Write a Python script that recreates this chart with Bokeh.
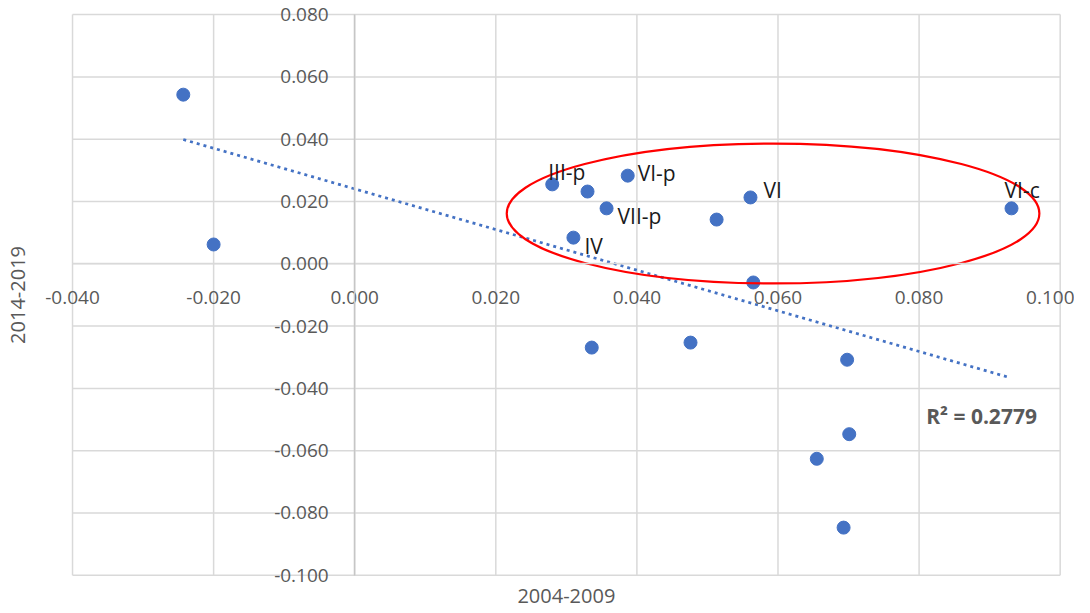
from bokeh.plotting import figure
from bokeh.models import (Range1d, FixedTicker, NumeralTickFormatter, ColumnDataSource, Label)
from bokeh.embed import file_html
from bokeh.resources import INLINE

# ---------------- data ----------------
x_vals = [-0.0243, -0.0200, 0.0280, 0.0330, 0.0387, 0.0357, 0.0310, 0.0513,
          0.0561, 0.0931, 0.0565, 0.0336, 0.0476, 0.0698, 0.0701, 0.0655, 0.0693]
y_vals = [0.0543, 0.0062, 0.0255, 0.0232, 0.0283, 0.0178, 0.0084, 0.0142,
          0.0213, 0.0178, -0.0060, -0.0269, -0.0253, -0.0308, -0.0547, -0.0626, -0.0847]

label_names = ["III-p", "VI-p", "VII-p", "IV", "VI", "VI-c"]
label_x = [0.0280, 0.0387, 0.0357, 0.0310, 0.0561, 0.0931]
label_y = [0.0255, 0.0283, 0.0178, 0.0084, 0.0213, 0.0178]
label_dx = [-4, 10, 11, 11, 13, -7]
label_dy = [-12, -3, 8, 8, -7, -18]

trend_x = [-0.0243, 0.0928]
trend_y = [0.0399, -0.0365]
r2_text = "R\u00b2 = 0.2779"

ellipse_x = [0.0593]
ellipse_y = [0.01615]
ellipse_w = [0.0755]
ellipse_h = [0.0449]

x_ticks = [-0.04, -0.02, 0.0, 0.02, 0.04, 0.06, 0.08, 0.10]
y_ticks = [-0.10, -0.08, -0.06, -0.04, -0.02, 0.0, 0.02, 0.04, 0.06, 0.08]
x_title = "2004-2009"
y_title = "2014-2019"

# ---------------- figure ----------------
FONT = "Open Sans"
GRAY_TXT = "#595959"
GRID = "#d9d9d9"
BLUE = "#4472C4"

XMIN, XMAX = x_ticks[0], x_ticks[-1]
YMIN, YMAX = y_ticks[0], y_ticks[-1]

# the frame covers the whole canvas; the chart area is drawn inside it
p = figure(width=1074, height=613, output_backend="svg", toolbar_location=None,
           x_range=Range1d(-0.05021, 0.10203), y_range=Range1d(-0.11227, 0.08453),
           min_border=0, background_fill_color="white", border_fill_color="white")
p.outline_line_color = None
p.grid.visible = False

# grid lines (chart area only)
n_x = len(x_ticks)
n_y = len(y_ticks)
p.segment(x0=x_ticks, y0=[YMIN] * n_x, x1=x_ticks, y1=[YMAX] * n_x,
          line_color=GRID, line_width=1.5)
p.segment(x0=[XMIN] * n_y, y0=y_ticks, x1=[XMAX] * n_y, y1=y_ticks,
          line_color=GRID, line_width=1.5)

for ax, ticks in ((p.xaxis[0], x_ticks), (p.yaxis[0], y_ticks)):
    ax.ticker = FixedTicker(ticks=ticks)
    ax.formatter = NumeralTickFormatter(format="0.000")
    ax.fixed_location = 0
    ax.major_tick_line_color = None
    ax.minor_tick_line_color = None
    ax.major_label_text_font = FONT
    ax.major_label_text_font_size = "19px"
    ax.major_label_text_color = GRAY_TXT
p.xaxis[0].major_label_standoff = 21
p.yaxis[0].major_label_standoff = 20
p.xaxis[0].bounds = (XMIN, XMAX)
p.yaxis[0].bounds = (YMIN, YMAX)
p.xaxis[0].axis_line_color = GRID
p.xaxis[0].axis_line_width = 1.5
p.yaxis[0].axis_line_color = "#c6c6c6"
p.yaxis[0].axis_line_width = 1.5

# axis titles
p.text(x=[(XMIN + XMAX) / 2], y=[-0.10681], text=[x_title], text_font={"value": FONT},
       text_font_size="20px", text_color=GRAY_TXT, text_align="center",
       text_baseline="middle")
p.text(x=[-0.0477], y=[(YMIN + YMAX) / 2], text=[y_title], text_font={"value": FONT},
       text_font_size="20px", text_color=GRAY_TXT, text_align="center",
       text_baseline="middle", angle=1.5707963)

# trend line
p.line(trend_x, trend_y, line_color=BLUE, line_width=2.75, line_dash="3 4")

# points
src = ColumnDataSource(dict(x=x_vals, y=y_vals))
p.scatter("x", "y", source=src, size=13, fill_color=BLUE, line_color=BLUE)

# ellipse
p.ellipse(ellipse_x, ellipse_y, width=ellipse_w, height=ellipse_h,
          fill_color=None, line_color="#ff0000", line_width=2.2)

# data labels
lsrc = ColumnDataSource(dict(x=label_x, y=label_y, t=label_names, dx=label_dx, dy=label_dy))
p.text("x", "y", text="t", source=lsrc, x_offset="dx", y_offset="dy",
       text_font={"value": FONT}, text_font_size="21px", text_color="#1a1a1a",
       text_baseline="alphabetic", text_align="left")

# R^2 label
p.add_layout(Label(x=0.0810, y=-0.0490, text=r2_text, text_font=FONT,
                   text_font_size="21px", text_font_style="bold", text_color=GRAY_TXT,
                   text_baseline="alphabetic"))

open("out.html", "w").write(file_html(p, INLINE))
